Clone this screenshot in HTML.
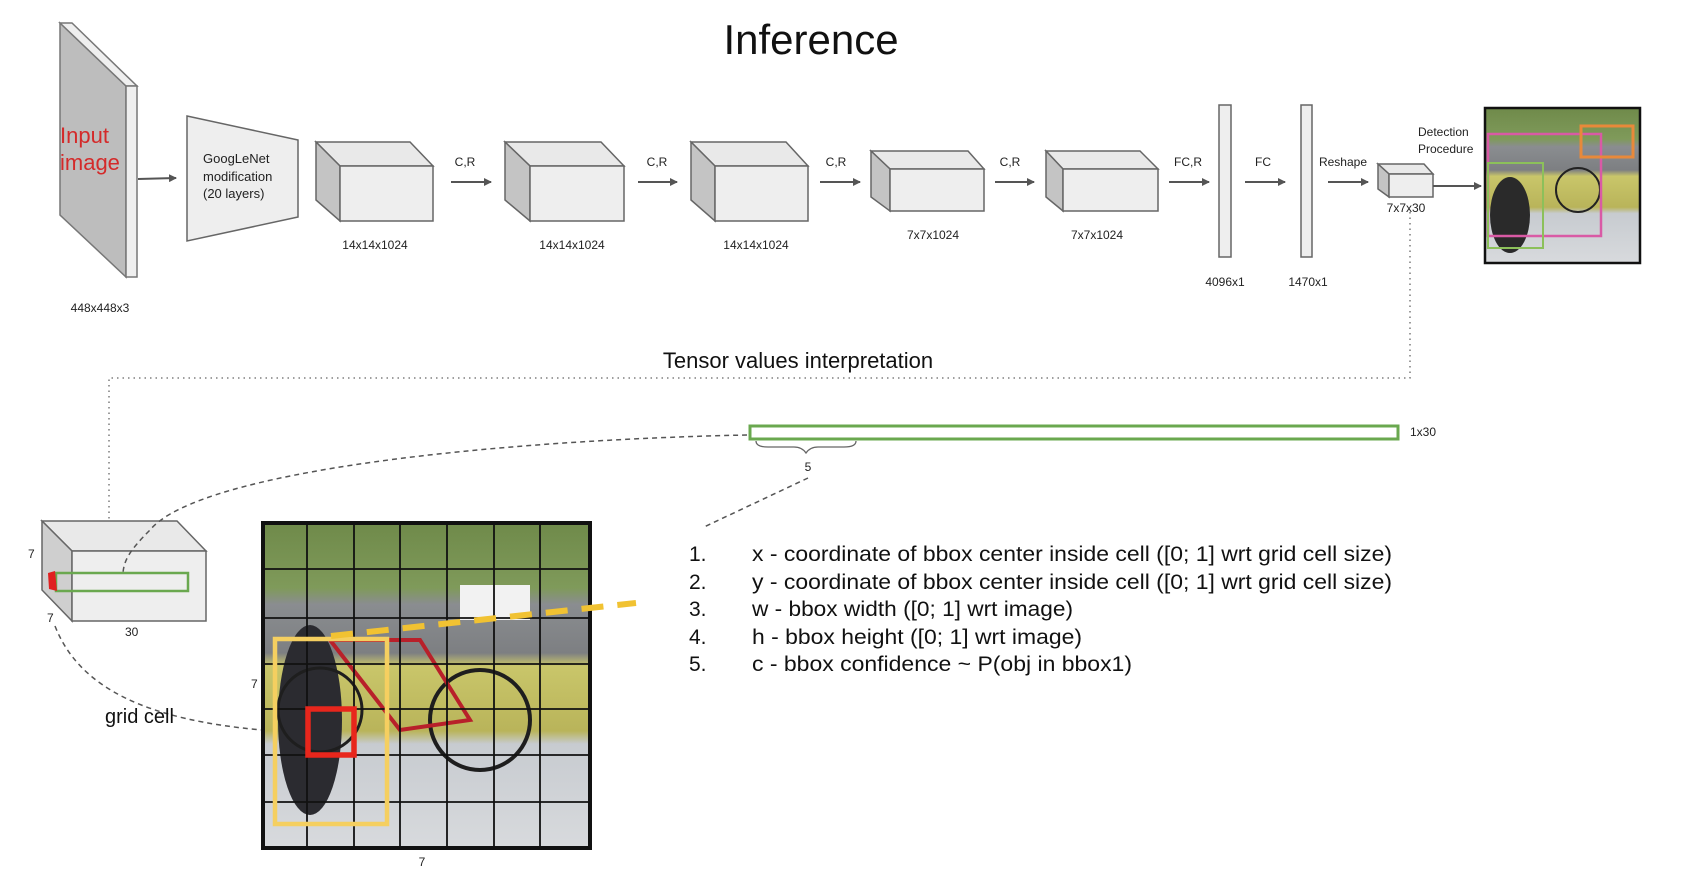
<!DOCTYPE html>
<html><head><meta charset="utf-8"><style>
html,body{margin:0;padding:0;background:#fff;}
svg{display:block;font-family:"Liberation Sans",sans-serif;}
</style></head><body>
<svg width="1686" height="872" viewBox="0 0 1686 872" xmlns="http://www.w3.org/2000/svg">
<defs>
<marker id="ah" markerWidth="8" markerHeight="8" refX="7" refY="4" orient="auto" markerUnits="userSpaceOnUse"><path d="M0,0 L8,4 L0,8 z" fill="#555"/></marker>
<linearGradient id="ph" x1="0" y1="0" x2="0" y2="1">
<stop offset="0" stop-color="#6f8a4a"/><stop offset="0.2" stop-color="#7f9a5a"/><stop offset="0.25" stop-color="#8a8d90"/><stop offset="0.4" stop-color="#7d7f82"/><stop offset="0.44" stop-color="#c9c66a"/><stop offset="0.64" stop-color="#b9b45a"/><stop offset="0.68" stop-color="#c7cbd0"/><stop offset="1" stop-color="#d8dadd"/></linearGradient>
</defs>
<text x="811" y="54" font-size="42" text-anchor="middle" fill="#111">Inference</text>

<polygon points="60,23 126,86 126,277 60,215" fill="#bdbdbd" stroke="#777" stroke-width="1.5"/>
<polygon points="60,23 72,23 137,86 126,86" fill="#efefef" stroke="#777" stroke-width="1.5"/>
<rect x="126" y="86" width="11" height="191" fill="#efefef" stroke="#777" stroke-width="1.5"/>
<text x="60" y="143" font-size="22" fill="#d42a2a">Input</text>
<text x="60" y="170" font-size="22" fill="#d42a2a">image</text>
<text x="100" y="312" font-size="12" text-anchor="middle" fill="#222">448x448x3</text>
<line x1="138" y1="179" x2="176" y2="178" stroke="#555" stroke-width="2" marker-end="url(#ah)"/>

<polygon points="187,116 298,140 298,217 187,241" fill="#eeeeee" stroke="#666" stroke-width="1.5"/>
<g font-size="13" fill="#222"><text x="203" y="163">GoogLeNet</text><text x="203" y="181">modification</text><text x="203" y="198">(20 layers)</text></g>

<g stroke="#666" stroke-width="1.5">
<polygon points="316,142 410,142 433,166 340,166" fill="#e9e9e9"/>
<polygon points="316,142 340,166 340,221 316,200" fill="#c4c4c4"/>
<rect x="340" y="166" width="93" height="55" fill="#eeeeee"/>
<polygon points="505,142 601,142 624,166 530,166" fill="#e9e9e9"/>
<polygon points="505,142 530,166 530,221 505,200" fill="#c4c4c4"/>
<rect x="530" y="166" width="94" height="55" fill="#eeeeee"/>
<polygon points="691,142 786,142 808,166 715,166" fill="#e9e9e9"/>
<polygon points="691,142 715,166 715,221 691,200" fill="#c4c4c4"/>
<rect x="715" y="166" width="93" height="55" fill="#eeeeee"/>
<polygon points="871,151 968,151 984,169 890,169" fill="#e9e9e9"/>
<polygon points="871,151 890,169 890,211 871,197" fill="#c4c4c4"/>
<rect x="890" y="169" width="94" height="42" fill="#eeeeee"/>
<polygon points="1046,151 1140,151 1158,169 1063,169" fill="#e9e9e9"/>
<polygon points="1046,151 1063,169 1063,211 1046,197" fill="#c4c4c4"/>
<rect x="1063" y="169" width="95" height="42" fill="#eeeeee"/>
<rect x="1219" y="105" width="12" height="152" fill="#eeeeee"/>
<rect x="1301" y="105" width="11" height="152" fill="#eeeeee"/>
<polygon points="1378,164 1424,164 1433,174 1389,174" fill="#e9e9e9"/>
<polygon points="1378,164 1389,174 1389,197 1378,189" fill="#c4c4c4"/>
<rect x="1389" y="174" width="44" height="23" fill="#eeeeee"/>
</g>
<g font-size="12" fill="#222" text-anchor="middle">
<text x="375" y="249">14x14x1024</text><text x="572" y="249">14x14x1024</text><text x="756" y="249">14x14x1024</text>
<text x="933" y="239">7x7x1024</text><text x="1097" y="239">7x7x1024</text>
<text x="1225" y="286">4096x1</text><text x="1308" y="286">1470x1</text>
<text x="1406" y="212">7x7x30</text>
<text x="465" y="166">C,R</text><text x="657" y="166">C,R</text><text x="836" y="166">C,R</text>
<text x="1010" y="166">C,R</text><text x="1188" y="166">FC,R</text><text x="1263" y="166">FC</text><text x="1343" y="166">Reshape</text>
</g>
<g font-size="12" fill="#222"><text x="1418" y="136">Detection</text><text x="1418" y="153">Procedure</text></g>
<g stroke="#555" stroke-width="2" marker-end="url(#ah)">
<line x1="451" y1="182" x2="491" y2="182"/><line x1="638" y1="182" x2="677" y2="182"/><line x1="820" y1="182" x2="860" y2="182"/>
<line x1="995" y1="182" x2="1034" y2="182"/><line x1="1169" y1="182" x2="1209" y2="182"/><line x1="1245" y1="182" x2="1285" y2="182"/>
<line x1="1328" y1="182" x2="1368" y2="182"/><line x1="1433" y1="186" x2="1481" y2="186"/>
</g>

<rect x="1485" y="108" width="155" height="155" fill="url(#ph)" stroke="#111" stroke-width="2.5"/>
<ellipse cx="1510" cy="215" rx="20" ry="38" fill="#2a2a2a"/>
<circle cx="1578" cy="190" r="22" fill="none" stroke="#222" stroke-width="2"/>
<rect x="1488" y="134" width="113" height="102" fill="none" stroke="#d95aa5" stroke-width="2.5"/>
<rect x="1581" y="126" width="52" height="31" fill="none" stroke="#e8893a" stroke-width="3"/>
<rect x="1488" y="163" width="55" height="85" fill="none" stroke="#8cc05a" stroke-width="2"/>

<text x="798" y="368" font-size="22" text-anchor="middle" fill="#111">Tensor values interpretation</text>
<path d="M1410,212 V378 H109 V520" fill="none" stroke="#666" stroke-width="1.3" stroke-dasharray="1.5,4"/>

<rect x="750" y="426" width="648" height="13" fill="none" stroke="#6aa84f" stroke-width="3"/>
<text x="1410" y="436" font-size="12" fill="#222">1x30</text>
<path d="M756,441 q0,6 12,6 h26 q8,0 12,6 q4,-6 12,-6 h26 q12,0 12,-6" fill="none" stroke="#666" stroke-width="1.3"/>
<text x="808" y="471" font-size="12" text-anchor="middle" fill="#222">5</text>
<line x1="808" y1="478" x2="704" y2="527" stroke="#555" stroke-width="1.5" stroke-dasharray="5,4"/>

<g stroke="#666" stroke-width="1.5">
<polygon points="42,521 177,521 206,551 72,551" fill="#e9e9e9"/>
<polygon points="42,521 72,551 72,621 42,590" fill="#cfcfcf"/>
<rect x="72" y="551" width="134" height="70" fill="#eeeeee"/>
</g>
<rect x="56" y="573" width="132" height="18" fill="none" stroke="#6aa84f" stroke-width="2.5"/>
<polygon points="48,573 55,571 57,591 49,589" fill="#e02020"/>
<g font-size="12" fill="#222"><text x="28" y="558">7</text><text x="47" y="622">7</text><text x="125" y="636">30</text></g>
<path d="M747,435 C500,440 200,470 150,530 C130,550 124,560 123,573" fill="none" stroke="#555" stroke-width="1.5" stroke-dasharray="5,4"/>
<path d="M55,626 C80,690 150,720 262,730" fill="none" stroke="#555" stroke-width="1.5" stroke-dasharray="5,4"/>
<text x="105" y="723" font-size="20" fill="#111">grid cell</text>

<rect x="263" y="523" width="327" height="325" fill="url(#ph)"/>
<ellipse cx="310" cy="720" rx="32" ry="95" fill="#2b2b30"/>
<circle cx="480" cy="720" r="50" fill="none" stroke="#1e1e1e" stroke-width="4"/>
<circle cx="320" cy="710" r="42" fill="none" stroke="#1e1e1e" stroke-width="3"/>
<polyline points="330,640 420,640 470,720 400,730 330,640" fill="none" stroke="#b8202a" stroke-width="4"/>
<rect x="460" y="585" width="70" height="35" fill="#f2f2f2"/>
<g stroke="#111" stroke-width="1.8">
<line x1="307" y1="523" x2="307" y2="848"/><line x1="354" y1="523" x2="354" y2="848"/><line x1="400" y1="523" x2="400" y2="848"/>
<line x1="447" y1="523" x2="447" y2="848"/><line x1="494" y1="523" x2="494" y2="848"/><line x1="540" y1="523" x2="540" y2="848"/>
<line x1="263" y1="569" x2="590" y2="569"/><line x1="263" y1="618" x2="590" y2="618"/><line x1="263" y1="664" x2="590" y2="664"/>
<line x1="263" y1="709" x2="590" y2="709"/><line x1="263" y1="755" x2="590" y2="755"/><line x1="263" y1="802" x2="590" y2="802"/>
</g>
<rect x="263" y="523" width="327" height="325" fill="none" stroke="#111" stroke-width="4"/>
<rect x="275" y="639" width="112" height="185" fill="none" stroke="#f5cf60" stroke-width="4.5"/>
<rect x="308" y="709" width="46" height="46" fill="none" stroke="#e8261c" stroke-width="5.5"/>
<line x1="331" y1="636" x2="636" y2="603" stroke="#f1c232" stroke-width="6" stroke-dasharray="22,14"/>
<text x="251" y="688" font-size="12" fill="#222">7</text>
<text x="422" y="866" font-size="12" text-anchor="middle" fill="#222">7</text>

<g font-size="21" fill="#111">
<text x="689" y="561">1.</text><text x="752" y="561" textLength="640" lengthAdjust="spacingAndGlyphs">x - coordinate of bbox center inside cell ([0; 1] wrt grid cell size)</text>
<text x="689" y="589">2.</text><text x="752" y="589" textLength="640" lengthAdjust="spacingAndGlyphs">y - coordinate of bbox center inside cell ([0; 1] wrt grid cell size)</text>
<text x="689" y="616">3.</text><text x="752" y="616" textLength="321" lengthAdjust="spacingAndGlyphs">w - bbox width ([0; 1] wrt image)</text>
<text x="689" y="644">4.</text><text x="752" y="644" textLength="330" lengthAdjust="spacingAndGlyphs">h - bbox height ([0; 1] wrt image)</text>
<text x="689" y="671">5.</text><text x="752" y="671" textLength="380" lengthAdjust="spacingAndGlyphs">c - bbox confidence ~ P(obj in bbox1)</text>
</g>
</svg>
</body></html>
